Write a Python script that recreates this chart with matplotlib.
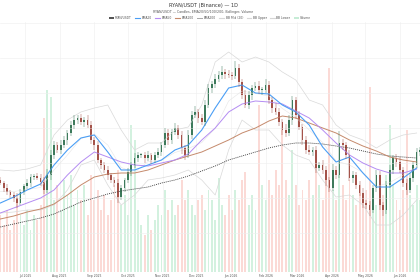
import numpy as np
import pandas as pd
import matplotlib
matplotlib.use("Agg")
import matplotlib.pyplot as plt
import matplotlib.dates as mdates
from matplotlib.lines import Line2D
from matplotlib.patches import Patch

# 3-day candles (price units arbitrary, axis labels hidden)
closes = [0.89, 0.84, 0.80, 0.77, 0.74, 0.69, 0.80, 0.86, 0.89, 0.95,
          0.96, 0.94, 0.90, 0.82, 0.97, 1.17, 1.27, 1.22, 1.27, 1.32,
          1.39, 1.47, 1.52, 1.54, 1.50, 1.52, 1.47, 1.32, 1.27, 1.12,
          1.07, 1.02, 0.97, 0.92, 0.89, 0.75, 0.84, 0.92, 1.00, 1.07,
          1.14, 1.17, 1.17, 1.14, 1.17, 1.12, 1.17, 1.20, 1.27, 1.39,
          1.32, 1.40, 1.44, 1.37, 1.24, 1.17, 1.37, 1.57, 1.60, 1.54,
          1.50, 1.67, 1.84, 1.88, 1.93, 1.97, 2.00, 1.98, 1.97, 1.96,
          2.04, 1.90, 1.77, 1.67, 1.77, 1.84, 1.86, 1.82, 1.82, 1.87,
          1.72, 1.64, 1.60, 1.50, 1.42, 1.39, 1.52, 1.72, 1.57, 1.45,
          1.32, 1.22, 1.20, 1.22, 1.04, 1.07, 1.02, 0.92, 0.84, 1.02,
          0.97, 1.29, 1.27, 1.17, 0.94, 0.97, 0.87, 0.79, 0.69, 0.67,
          0.62, 0.84, 0.97, 0.67, 0.62, 0.87, 1.02, 1.14, 1.10, 1.02,
          0.89, 0.82, 0.94, 1.07, 1.20, 1.22]
first_open = 0.92
wick_up = [0.03, 0.02, 0.04, 0.02, 0.03, 0.05, 0.03, 0.02, 0.04, 0.03,
           0.02, 0.03, 0.04, 0.05, 0.06, 0.05, 0.04, 0.03, 0.05, 0.04,
           0.03, 0.04, 0.05, 0.03, 0.04, 0.03, 0.05, 0.04, 0.03, 0.04,
           0.02, 0.03, 0.04, 0.02, 0.03, 0.04, 0.03, 0.02, 0.04, 0.03,
           0.05, 0.03, 0.02, 0.03, 0.04, 0.02, 0.03, 0.04, 0.03, 0.05,
           0.04, 0.03, 0.05, 0.03, 0.04, 0.03, 0.05, 0.04, 0.06, 0.03,
           0.04, 0.05, 0.04, 0.03, 0.05, 0.04, 0.06, 0.03, 0.04, 0.03,
           0.07, 0.04, 0.03, 0.05, 0.04, 0.03, 0.04, 0.05, 0.03, 0.06,
           0.04, 0.03, 0.05, 0.04, 0.03, 0.06, 0.05, 0.04, 0.03, 0.04,
           0.03, 0.04, 0.05, 0.03, 0.04, 0.03, 0.05, 0.04, 0.03, 0.06,
           0.04, 0.12, 0.04, 0.03, 0.05, 0.04, 0.03, 0.04, 0.05, 0.03,
           0.04, 0.03, 0.05, 0.04, 0.03, 0.04, 0.05, 0.03, 0.04, 0.05,
           0.03, 0.04, 0.05, 0.03, 0.04, 0.03]
wick_dn = [0.02, 0.04, 0.03, 0.03, 0.04, 0.05, 0.02, 0.03, 0.03, 0.04,
           0.03, 0.02, 0.04, 0.04, 0.03, 0.05, 0.04, 0.03, 0.04, 0.03,
           0.05, 0.03, 0.04, 0.04, 0.03, 0.05, 0.03, 0.04, 0.05, 0.03,
           0.04, 0.03, 0.05, 0.03, 0.04, 0.06, 0.03, 0.04, 0.03, 0.04,
           0.03, 0.04, 0.03, 0.05, 0.03, 0.04, 0.03, 0.03, 0.04, 0.03,
           0.05, 0.04, 0.03, 0.04, 0.06, 0.05, 0.03, 0.04, 0.03, 0.05,
           0.03, 0.04, 0.03, 0.05, 0.04, 0.03, 0.04, 0.05, 0.03, 0.04,
           0.03, 0.05, 0.04, 0.03, 0.04, 0.05, 0.03, 0.04, 0.05, 0.03,
           0.04, 0.05, 0.03, 0.04, 0.05, 0.04, 0.03, 0.05, 0.04, 0.03,
           0.05, 0.04, 0.03, 0.04, 0.05, 0.03, 0.04, 0.06, 0.04, 0.03,
           0.04, 0.03, 0.05, 0.04, 0.03, 0.05, 0.04, 0.03, 0.05, 0.04,
           0.06, 0.03, 0.04, 0.05, 0.06, 0.04, 0.03, 0.04, 0.05, 0.03,
           0.04, 0.05, 0.03, 0.04, 0.03, 0.04]
volume = [5.7, 4.7, 6.2, 4.2, 5.2, 7.2, 5.7, 4.7, 6.2, 4.2,
          5.7, 5.2, 6.7, 15.4, 18.2, 17.5, 7.2, 8.7, 6.2, 9.2,
          7.7, 9.7, 6.7, 8.2, 7.2, 8.7, 5.7, 9.7, 7.2, 8.2,
          6.2, 7.7, 5.7, 7.2, 8.7, 10.2, 6.7, 7.7, 5.7, 14.7,
          13.2, 6.2, 4.7, 3.7, 5.7, 4.2, 5.2, 6.7, 5.7, 8.2,
          6.2, 7.2, 5.7, 6.7, 9.2, 7.2, 8.2, 6.7, 5.7, 7.2,
          7.7, 6.2, 8.2, 7.2, 5.2, 9.4, 6.7, 5.7, 7.7, 6.2,
          8.2, 7.2, 9.2, 10.0, 6.7, 7.7, 6.2, 16.7, 8.7, 7.2,
          9.2, 7.7, 10.2, 8.7, 14.2, 9.2, 7.7, 12.2, 8.7, 6.7,
          8.2, 7.2, 9.2, 7.7, 10.9, 8.7, 7.2, 9.7, 20.4, 8.2,
          7.2, 9.7, 8.7, 7.2, 9.2, 7.7, 6.7, 8.7, 7.2, 8.2,
          18.5, 7.7, 6.7, 8.7, 7.7, 9.7, 14.7, 8.7, 7.2, 6.2,
          8.2, 14.2, 7.7, 6.7, 8.7, 7.2]

# indicator lines, sampled every 4th candle from the picture
ema20 = [0.69, 0.75, 0.82, 0.88, 1.07, 1.22, 1.34, 1.37, 1.20, 1.02, 1.02, 1.07,
         1.12, 1.22, 1.27, 1.42, 1.64, 1.84, 1.87, 1.79, 1.78, 1.67, 1.60, 1.47,
         1.25, 1.10, 1.15, 0.99, 0.85, 0.85, 0.94, 1.04]
ema50 = [0.59, 0.64, 0.69, 0.74, 0.82, 0.97, 1.10, 1.20, 1.15, 1.10, 1.07, 1.06,
         1.09, 1.12, 1.18, 1.32, 1.44, 1.60, 1.68, 1.71, 1.70, 1.68, 1.61, 1.54,
         1.42, 1.29, 1.17, 1.09, 1.03, 0.99, 0.99, 1.03]
ema100 = [0.53, 0.56, 0.60, 0.63, 0.68, 0.77, 0.87, 0.95, 0.98, 0.99, 0.99, 1.02,
          1.07, 1.12, 1.16, 1.20, 1.26, 1.32, 1.39, 1.44, 1.51, 1.56, 1.54, 1.49,
          1.44, 1.39, 1.32, 1.26, 1.21, 1.15, 1.12, 1.10]
ema200 = [0.45, 0.48, 0.51, 0.54, 0.58, 0.64, 0.70, 0.74, 0.78, 0.81, 0.83, 0.85,
          0.89, 0.92, 0.96, 1.01, 1.06, 1.12, 1.16, 1.20, 1.24, 1.27, 1.29, 1.29,
          1.28, 1.26, 1.24, 1.21, 1.18, 1.16, 1.15, 1.14]
bb_upper = [1.02, 1.01, 1.03, 1.07, 1.37, 1.52, 1.60, 1.64, 1.67, 1.42, 1.22, 1.29,
            1.29, 1.42, 1.45, 1.67, 2.10, 2.20, 2.10, 2.15, 2.10, 2.00, 1.92, 1.72,
            1.67, 1.47, 1.37, 1.32, 1.24, 1.32, 1.37, 1.39]
bb_lower = [0.59, 0.60, 0.62, 0.62, 0.67, 0.82, 1.07, 1.12, 0.87, 0.67, 0.77, 0.92,
            0.94, 0.97, 1.02, 0.92, 0.77, 1.22, 1.52, 1.42, 1.42, 1.27, 1.17, 1.12,
            0.92, 0.75, 0.77, 0.67, 0.47, 0.47, 0.57, 0.72]

dates = pd.date_range("2025-06-09", periods=len(closes), freq="3D")
line_dates = dates[::4]
closes = np.array(closes)
opens = np.r_[first_open, closes[:-1]]
highs = np.maximum(opens, closes) + np.array(wick_up)
lows = np.minimum(opens, closes) - np.array(wick_dn)
bb_mid = (np.array(bb_upper) + np.array(bb_lower)) / 2
up = closes >= opens

green, red = "#3d7a5b", "#a4534a"

fig = plt.figure(figsize=(4.2, 2.8), dpi=100)
ax_vol = fig.add_axes([0, 8 / 280, 1, 250 / 280])
ax = ax_vol.twinx()

# volume
ax_vol.bar(dates, volume, width=1.7, color=np.where(up, "#d3f1df", "#fbdad6"), linewidth=0)
ax_vol.set_ylim(0, 25)
ax_vol.set_yticks([])

# bollinger + emas
for vals in (bb_upper, bb_lower):
    ax.plot(line_dates, vals, color="#d9d9d9", lw=0.5)
ax.plot(line_dates, bb_mid, color="#e6e6e6", lw=0.4)
ax.plot(line_dates, ema200, color="#333333", lw=0.6, ls=(0, (1.2, 1.2)))
ax.plot(line_dates, ema100, color="#c58a6c", lw=0.7)
ax.plot(line_dates, ema50, color="#b48cf2", lw=0.7)
ax.plot(line_dates, ema20, color="#4a9ef5", lw=0.8)

# candles
cols = np.where(up, green, red)
ax.vlines(dates, lows, highs, color=cols, lw=0.35)
body = np.maximum(np.abs(closes - opens), 0.008)
ax.bar(dates, body, bottom=np.minimum(opens, closes), width=1.5, color=cols, linewidth=0)

ax.set_ylim(0, 2.5)
ax.set_yticks([0.39, 0.74, 1.09, 1.44, 1.79, 2.14, 2.49])
ax.set_yticklabels([])
ax.tick_params(axis="y", length=0)
ax.grid(axis="y", color="#eeeeee", lw=0.4)
ax_vol.grid(axis="x", color="#eeeeee", lw=0.4)
ax_vol.set_xlim(pd.Timestamp("2025-06-08 17:00"), pd.Timestamp("2026-06-19"))
ax_vol.xaxis.set_major_locator(mdates.MonthLocator())
ax_vol.xaxis.set_major_formatter(mdates.DateFormatter("%b %Y"))
ax_vol.tick_params(axis="x", length=0, labelsize=2.2, labelcolor="#555555", pad=1.5)
for a in (ax, ax_vol):
    for s in a.spines.values():
        s.set_visible(False)

fig.text(0.484, 1 - 5 / 280, "RYAN/USDT (Binance) — 1D", ha="center", va="center",
         fontsize=3.6, color="#333333")
fig.text(0.484, 1 - 12 / 280, "RYAN/USDT — Candles, EMA20/50/100/200, Bollinger, Volume",
         ha="center", va="center", fontsize=2.3, color="#555555")

handles = [
    Patch(facecolor="#555555", label="RYAN/USDT"),
    Line2D([], [], color="#4a9ef5", lw=0.8, label="EMA20"),
    Line2D([], [], color="#b48cf2", lw=0.8, label="EMA50"),
    Line2D([], [], color="#c58a6c", lw=0.8, label="EMA100"),
    Line2D([], [], color="#333333", lw=0.6, ls=(0, (1.2, 1.2)), label="EMA200"),
    Line2D([], [], color="#d6d6d6", lw=0.8, label="BB Mid (20)"),
    Line2D([], [], color="#d6d6d6", lw=0.8, label="BB Upper"),
    Line2D([], [], color="#d6d6d6", lw=0.8, label="BB Lower"),
    Patch(facecolor="#c6ecd6", label="Volume"),
]
fig.legend(handles=handles, loc="center", bbox_to_anchor=(0.5, 1 - 18 / 280), ncol=9,
           fontsize=2.2, frameon=False, handlelength=1.6, handleheight=0.8,
           columnspacing=1.2, handletextpad=0.4, labelcolor="#555555")

fig.savefig("out.png", dpi=100)
